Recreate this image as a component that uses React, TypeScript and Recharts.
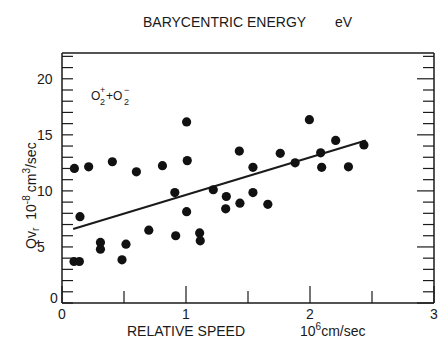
import {
  ScatterChart,
  Scatter,
  XAxis,
  YAxis,
  ReferenceLine,
} from "recharts";

// relative speed (10^6 cm/sec) and Qv_r (10^-8 cm^3/sec)
const speed = [
  0.1, 0.145, 0.097, 0.14, 0.215, 0.31, 0.31, 0.406, 0.484, 0.516, 0.6, 0.7,
  0.81, 0.91, 0.917, 1.005, 1.01, 1.005, 1.11, 1.115, 1.22, 1.325, 1.32,
  1.435, 1.43, 1.54, 1.54, 1.66, 1.76, 1.88, 1.995, 2.086, 2.094, 2.207, 2.31,
  2.435,
];
const rate = [
  12.0, 7.7, 3.7, 3.7, 12.15, 5.4, 4.8, 12.6, 3.85, 5.25, 11.7, 6.5, 12.25,
  9.85, 6.0, 16.15, 12.7, 8.15, 6.25, 5.55, 10.1, 9.5, 8.4, 8.9, 13.55, 9.85,
  12.1, 8.8, 13.35, 12.5, 16.35, 13.4, 12.1, 14.5, 12.15, 14.1,
];

// fitted line end points
const fitSpeed = [0.09, 2.45];
const fitRate = [6.6, 14.5];

const speedTicks = [0, 0.5, 1, 1.5, 2, 2.5, 3];
const rateTicks = Array.from({ length: 23 }, (_, i) => i);

// barycentric energy axis (eV), speed ~ sqrt(E)
const energyTicks = [0.1, 0.5, 1, 5, 10, 20, 40, 60];
const energyLabels = ["0.1", "", "1", "5", "10", "20", "40", "60"];
const SPEED_PER_SQRT_EV = 0.347;
const energyTickSpeeds = energyTicks.map((e) => SPEED_PER_SQRT_EV * Math.sqrt(e));

const points = speed.map((s, i) => ({ x: s, y: rate[i] }));

const INK = "#1a1a1a";
const FONT = "'Liberation Sans', Arial, sans-serif";

const LeftTick = (props: any) => {
  const { x, y, payload } = props;
  const v = payload.value;
  const major = v % 5 === 0;
  return (
    <g>
      <line x1={x} x2={x + 11} y1={y} y2={y} stroke={INK} strokeWidth={1.2} />
      {major && (
        <text
          x={v === 0 ? x - 12 : x - 25}
          y={y}
          dy={v === 0 ? 0 : 5}
          fontSize={14}
          fontFamily={FONT}
          fill={INK}
        >
          {v}
        </text>
      )}
    </g>
  );
};

const RightTick = (props: any) => {
  const { x, y, payload } = props;
  const len = payload.value % 5 === 0 ? 17 : 11;
  return <line x1={x} x2={x - len} y1={y} y2={y} stroke={INK} strokeWidth={1.2} />;
};

const BottomTick = (props: any) => {
  const { x, y, payload } = props;
  const v = payload.value;
  const major = Number.isInteger(v);
  return (
    <g>
      <line x1={x} x2={x} y1={y} y2={y - (major ? 17 : 12)} stroke={INK} strokeWidth={1.2} />
      {major && (
        <text x={x} y={y + 16} textAnchor="middle" fontSize={14} fontFamily={FONT} fill={INK}>
          {v}
        </text>
      )}
    </g>
  );
};

const TopTick = (props: any) => {
  const { x, y, index } = props;
  return (
    <g>
      <line x1={x} x2={x} y1={y} y2={y + 18} stroke={INK} strokeWidth={1.2} />
      <text x={x} y={y - 4} textAnchor="middle" fontSize={14} fontFamily={FONT} fill={INK}>
        {energyLabels[index]}
      </text>
    </g>
  );
};

const Dot = (props: any) => <circle cx={props.cx} cy={props.cy} r={4.6} fill="#111" />;

export default function App() {
  return (
    <div style={{ position: "absolute", left: 0, top: 0, width: 438, height: 344, background: "#fff" }}>
      <ScatterChart width={438} height={344} margin={{ top: 0, right: 3, bottom: 0, left: 0 }}>
        <XAxis
          xAxisId={0}
          type="number"
          dataKey="x"
          domain={[0, 3]}
          ticks={speedTicks}
          interval={0}
          height={41}
          allowDataOverflow
          tickSize={0}
          tickMargin={0}
          tick={BottomTick}
          axisLine={{ stroke: INK, strokeWidth: 1.5 }}
        />
        <XAxis
          xAxisId="top"
          orientation="top"
          type="number"
          domain={[0, 3]}
          ticks={energyTickSpeeds}
          interval={0}
          height={53}
          allowDataOverflow
          tickSize={0}
          tickMargin={0}
          tick={TopTick}
          axisLine={{ stroke: INK, strokeWidth: 1.5 }}
        />
        <YAxis
          yAxisId={0}
          type="number"
          dataKey="y"
          domain={[0, 22.3]}
          ticks={rateTicks}
          interval={0}
          width={62}
          allowDataOverflow
          tickSize={0}
          tickMargin={0}
          tick={LeftTick}
          axisLine={{ stroke: INK, strokeWidth: 1.5 }}
        />
        <YAxis
          yAxisId="right"
          orientation="right"
          type="number"
          domain={[0, 22.3]}
          ticks={rateTicks}
          interval={0}
          width={1}
          allowDataOverflow
          tickSize={0}
          tickMargin={0}
          tick={RightTick}
          axisLine={{ stroke: INK, strokeWidth: 1.5 }}
        />
        <ReferenceLine
          xAxisId={0}
          yAxisId={0}
          segment={[
            { x: fitSpeed[0], y: fitRate[0] },
            { x: fitSpeed[1], y: fitRate[1] },
          ]}
          stroke={INK}
          strokeWidth={2}
        />
        <Scatter data={points} xAxisId={0} yAxisId={0} shape={Dot} isAnimationActive={false} />
      </ScatterChart>
      <svg
        width={438}
        height={344}
        style={{ position: "absolute", left: 0, top: 0, pointerEvents: "none" }}
        fontFamily={FONT}
        fill={INK}
      >
        <text x={143} y={27} fontSize={14}>BARYCENTRIC ENERGY</text>
        <text x={335} y={27} fontSize={14}>eV</text>
        <text x={127} y={336} fontSize={14}>RELATIVE SPEED</text>
        <text x={300} y={336} fontSize={14}>
          10<tspan dy={-6} fontSize={10}>6</tspan>
          <tspan dy={6}>cm/sec</tspan>
        </text>
        <text transform="translate(36,249) rotate(-90)" fontSize={14}>
          Qv<tspan dy={3} fontSize={10}>r</tspan>
          <tspan dy={-3} dx={8}>10</tspan>
          <tspan dy={-6} fontSize={10}>-8</tspan>
          <tspan dy={6} dx={3}>cm</tspan>
          <tspan dy={-6} fontSize={10}>3</tspan>
          <tspan dy={6}>/sec</tspan>
        </text>
        <g fontSize={12}>
          <text x={91} y={100}>O</text>
          <text x={100} y={105} fontSize={9}>2</text>
          <text x={100} y={93} fontSize={9}>+</text>
          <text x={106} y={100}>+O</text>
          <text x={124} y={105} fontSize={9}>2</text>
          <text x={124} y={93} fontSize={9}>−</text>
        </g>
      </svg>
    </div>
  );
}
